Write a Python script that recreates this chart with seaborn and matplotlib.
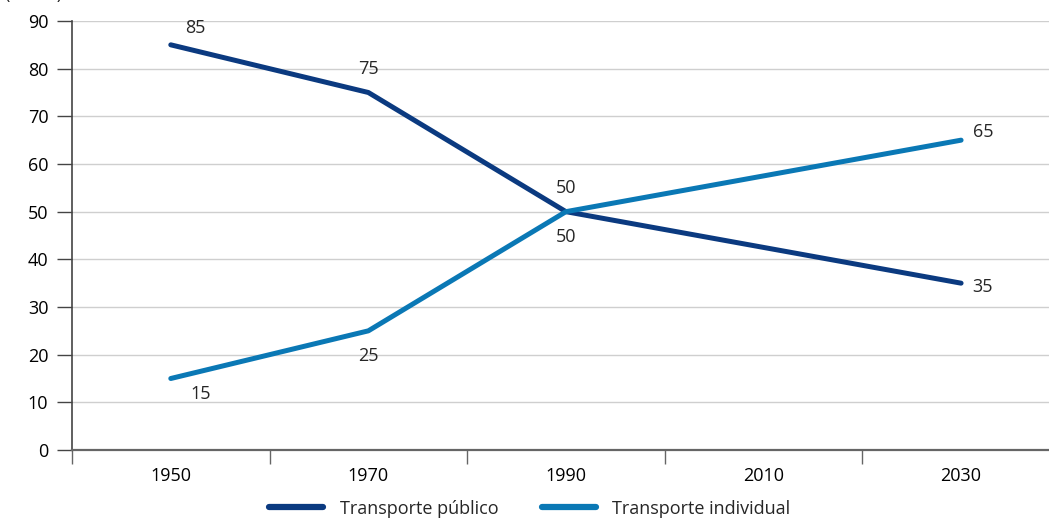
import numpy as np
import matplotlib
matplotlib.use("Agg")
import matplotlib.pyplot as plt
import pandas as pd
import seaborn as sns

years = ["1950", "1970", "1990", "2010", "2030"]
publico = [85, 75, 50, 42.5, 35]
individual = [15, 25, 50, 57.5, 65]
series_names = ["Transporte público", "Transporte individual"]
label_idx = [0, 1, 2, 4]  # points that carry a value label

dark = "#0b3a80"
light = "#0a78b5"
fs = 13

sns.set_theme(style="white")
plt.rcParams["font.family"] = ["Open Sans", "DejaVu Sans"]

pos = np.arange(len(years))
df = pd.DataFrame({
    "pos": np.concatenate([pos, pos]),
    "valor": publico + individual,
    "serie": [series_names[0]] * len(years) + [series_names[1]] * len(years),
})

fig = plt.figure(figsize=(10.49, 5.19), dpi=100)
ax = fig.add_axes([72 / 1049, 1 - 450 / 519, 1 - 72 / 1049, (450 - 21) / 519])

sns.lineplot(data=df, x="pos", y="valor", hue="serie",
             palette=[dark, light], linewidth=3.6, ax=ax, legend=False,
             solid_capstyle="round")

ax.set_xlim(-0.5, 4.445)
ax.set_ylim(0, 90)
ax.set_yticks(np.arange(0, 91, 10))
ax.set_xticks(pos)
ax.set_xticklabels(years)
ax.set_xticks(np.arange(-0.5, 4, 1), minor=True)
ax.set_xlabel("")
ax.set_ylabel("")
ax.yaxis.grid(True, color="#cfcfcf", linewidth=1)
ax.set_axisbelow(True)
for s in ["top", "right"]:
    ax.spines[s].set_visible(False)
ax.spines["left"].set_color("#444444")
ax.spines["bottom"].set_color("#666666")
ax.spines["left"].set_linewidth(1.2)
ax.spines["bottom"].set_linewidth(1.6)
ax.tick_params(axis="y", which="major", length=11, width=1, color="#444444",
               labelsize=fs, pad=6, labelcolor="#000000", left=True)
ax.tick_params(axis="x", which="major", length=0, labelsize=fs, pad=12,
               labelcolor="#000000")
ax.tick_params(axis="x", which="minor", length=10, width=1, color="#666666",
               bottom=True)

# value labels
for i in label_idx:
    if i == 0:
        ax.text(pos[i] + 0.125, publico[i] + 3.5, str(publico[i]), fontsize=fs, ha="center", va="center")
        ax.text(pos[i] + 0.15, individual[i] - 3.2, str(individual[i]), fontsize=fs, ha="center", va="center")
    elif i == 4:
        ax.text(pos[i] + 0.11, individual[i] + 1.8, str(individual[i]), fontsize=fs, ha="center", va="center")
        ax.text(pos[i] + 0.11, publico[i] - 0.8, str(publico[i]), fontsize=fs, ha="center", va="center")
    else:
        ax.text(pos[i], publico[i] + 4.9, str(publico[i]), fontsize=fs, ha="center", va="center")
        ax.text(pos[i], individual[i] - 5.3, str(individual[i]), fontsize=fs, ha="center", va="center")

# unit label, cropped at the top edge as in the source image
fig.text(0.005, 1.0 + 0.012, "(em %)", fontsize=fs, ha="left", va="center")

handles = [plt.Line2D([], [], color=dark, linewidth=4.5, solid_capstyle="round"),
           plt.Line2D([], [], color=light, linewidth=4.5, solid_capstyle="round")]
fig.legend(handles, series_names, loc="center", bbox_to_anchor=(0.505, 0.02),
           ncol=2, frameon=False, fontsize=fs, handlelength=3.0,
           handletextpad=0.9, columnspacing=2.4)

fig.savefig("out.png", dpi=100)
